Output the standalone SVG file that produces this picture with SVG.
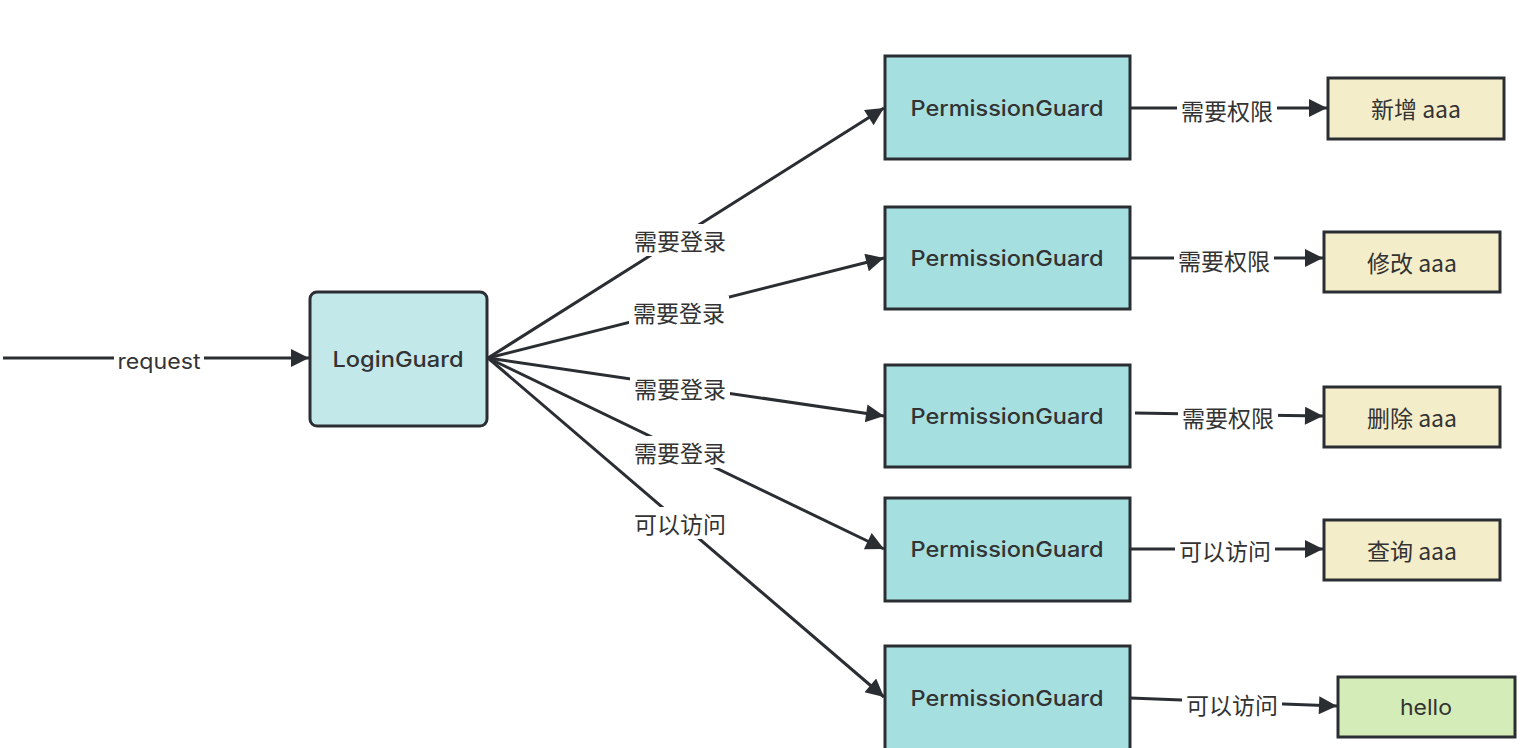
<svg xmlns="http://www.w3.org/2000/svg" width="1540" height="748" viewBox="0 0 1540 748">
<style>
.box{stroke:#2a2e33;stroke-width:3}
.pg{fill:#a6dfe0}
.lg{fill:#c2e8ea}
.yl{fill:#f4edca}
.gr{fill:#d4ecb8}
.t{font-family:Inter,"Liberation Sans","Noto Sans CJK SC",sans-serif;font-size:21px;font-weight:500;fill:#333;text-anchor:middle;dominant-baseline:central}
.r{font-family:Inter,"Liberation Sans",sans-serif;font-size:21px;fill:#333;text-anchor:middle;dominant-baseline:central}
.lbl{font-family:"Noto Sans CJK SC","Liberation Sans",sans-serif;font-size:23px;fill:#333;text-anchor:middle;dominant-baseline:central}
.bg{fill:#fff}
.ln{stroke:#2a2e33;stroke-width:3;marker-end:url(#ah)}
</style>
<defs>
<marker id="ah" viewBox="0 0 10 10" refX="10" refY="5" markerWidth="24" markerHeight="18" orient="auto" markerUnits="userSpaceOnUse">
<path d="M0,0 L10,5 L0,10 z" fill="#2a2e33"/>
</marker>
</defs>
<rect width="1540" height="748" fill="#fff"/>
<g id="connectors">
<line class="ln" x1="3" y1="358" x2="309" y2="358"/>
<rect class="bg" x="114" y="346" width="90" height="28"/>
<text class="r" x="159" y="361" textLength="83" lengthAdjust="spacingAndGlyphs">request</text>
<line class="ln" x1="488" y1="358" x2="884" y2="108"/>
<rect class="bg" x="630" y="224" width="100" height="32"/>
<text class="lbl" x="680" y="240">需要登录</text>
<line class="ln" x1="488" y1="358" x2="884" y2="258"/>
<rect class="bg" x="629" y="296" width="100" height="32"/>
<text class="lbl" x="679" y="312">需要登录</text>
<line class="ln" x1="488" y1="358" x2="884" y2="416"/>
<rect class="bg" x="630" y="372" width="100" height="32"/>
<text class="lbl" x="680" y="388">需要登录</text>
<line class="ln" x1="488" y1="358" x2="884" y2="549"/>
<rect class="bg" x="630" y="436" width="100" height="32"/>
<text class="lbl" x="680" y="452">需要登录</text>
<line class="ln" x1="488" y1="358" x2="884" y2="697"/>
<rect class="bg" x="630" y="507" width="100" height="32"/>
<text class="lbl" x="680" y="523">可以访问</text>
<line class="ln" x1="1130" y1="108" x2="1327" y2="108"/>
<rect class="bg" x="1177" y="94" width="100" height="32"/>
<text class="lbl" x="1227" y="110">需要权限</text>
<line class="ln" x1="1130" y1="258" x2="1323" y2="258"/>
<rect class="bg" x="1174" y="244" width="100" height="32"/>
<text class="lbl" x="1224" y="260">需要权限</text>
<line class="ln" x1="1135" y1="413" x2="1323" y2="416"/>
<rect class="bg" x="1178" y="401" width="100" height="32"/>
<text class="lbl" x="1228" y="417">需要权限</text>
<line class="ln" x1="1130" y1="549" x2="1323" y2="549"/>
<rect class="bg" x="1175" y="534" width="100" height="32"/>
<text class="lbl" x="1225" y="550">可以访问</text>
<line class="ln" x1="1130" y1="698" x2="1337" y2="706"/>
<rect class="bg" x="1182" y="688" width="100" height="32"/>
<text class="lbl" x="1232" y="704">可以访问</text>
</g>
<g id="login">
<rect class="box lg" x="310" y="292" width="177" height="134" rx="7"/>
<text class="t" x="398" y="359" textLength="131" lengthAdjust="spacingAndGlyphs">LoginGuard</text>
</g>
<g id="pg1">
<rect class="box pg" x="885" y="56" width="245" height="103"/>
<text class="t" x="1007" y="108" textLength="193" lengthAdjust="spacingAndGlyphs">PermissionGuard</text>
</g>
<g id="pg2">
<rect class="box pg" x="885" y="207" width="245" height="102"/>
<text class="t" x="1007" y="258" textLength="193" lengthAdjust="spacingAndGlyphs">PermissionGuard</text>
</g>
<g id="pg3">
<rect class="box pg" x="885" y="365" width="245" height="102"/>
<text class="t" x="1007" y="416" textLength="193" lengthAdjust="spacingAndGlyphs">PermissionGuard</text>
</g>
<g id="pg4">
<rect class="box pg" x="885" y="498" width="245" height="103"/>
<text class="t" x="1007" y="549" textLength="193" lengthAdjust="spacingAndGlyphs">PermissionGuard</text>
</g>
<g id="pg5">
<rect class="box pg" x="885" y="646" width="245" height="110"/>
<text class="t" x="1007" y="698" textLength="193" lengthAdjust="spacingAndGlyphs">PermissionGuard</text>
</g>
<g id="add">
<rect class="box yl" x="1328" y="78" width="176" height="61"/>
<text class="lbl" x="1416" y="108">新增 aaa</text>
</g>
<g id="edit">
<rect class="box yl" x="1324" y="232" width="176" height="60"/>
<text class="lbl" x="1412" y="262">修改 aaa</text>
</g>
<g id="del">
<rect class="box yl" x="1324" y="387" width="176" height="60"/>
<text class="lbl" x="1412" y="417">删除 aaa</text>
</g>
<g id="query">
<rect class="box yl" x="1324" y="520" width="176" height="60"/>
<text class="lbl" x="1412" y="550">查询 aaa</text>
</g>
<g id="hello">
<rect class="box gr" x="1338" y="677" width="177" height="60"/>
<text class="r" x="1426" y="707" textLength="52" lengthAdjust="spacingAndGlyphs">hello</text>
</g>
</svg>
